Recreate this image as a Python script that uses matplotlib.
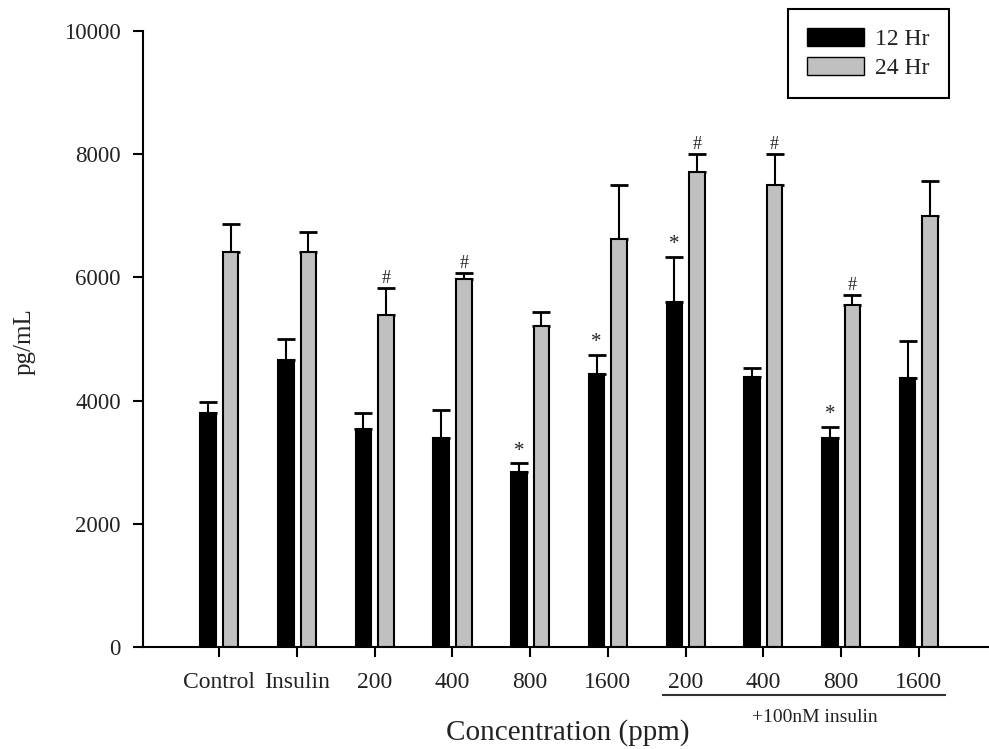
import numpy as np
import matplotlib.pyplot as plt
from matplotlib.patches import Patch

plt.rcParams['font.family'] = ['Liberation Serif', 'DejaVu Serif']
plt.rcParams['text.color'] = '#222222'

# data
groups = ['Control', 'Insulin', '200', '400', '800', '1600', '200', '400', '800', '1600']
mean_12 = [3800, 4660, 3540, 3400, 2840, 4430, 5600, 4390, 3390, 4360]
err_12 = [180, 340, 260, 440, 140, 310, 730, 140, 180, 610]
mean_24 = [6420, 6420, 5390, 5975, 5210, 6620, 7705, 7500, 5560, 7000]
err_24 = [440, 320, 430, 90, 230, 880, 295, 500, 150, 560]
star_12 = [False, False, False, False, True, True, True, False, True, False]
hash_24 = [False, False, True, True, False, False, True, True, True, False]

fig = plt.figure(figsize=(9.89, 7.49), dpi=100)
ax = fig.add_axes([143/989, 102/749, 845/989, 616/749])

x = np.arange(len(groups))
w = 0.2
off = 0.145

ax.bar(x - off, mean_12, w, color='black', edgecolor='black', linewidth=1.5, zorder=2)
ax.bar(x + off, mean_24, w, color='#c0c0c0', edgecolor='black', linewidth=1.5, zorder=2)
ax.errorbar(x - off, mean_12, yerr=[np.zeros(len(x)), err_12], fmt='none',
            ecolor='black', elinewidth=1.5, capsize=6.5, capthick=2, zorder=1)
ax.errorbar(x + off, mean_24, yerr=[np.zeros(len(x)), err_24], fmt='none',
            ecolor='black', elinewidth=1.5, capsize=6.5, capthick=2, zorder=1)

# significance marks
for i in range(len(x)):
    if star_12[i]:
        ax.annotate('*', (x[i] - off, mean_12[i] + err_12[i]), xytext=(0, 2),
                    textcoords='offset points', ha='center', va='bottom', fontsize=15)
    if hash_24[i]:
        ax.annotate('#', (x[i] + off, mean_24[i] + err_24[i]), xytext=(0, 1),
                    textcoords='offset points', ha='center', va='bottom', fontsize=13)

ax.set_xlim(-0.982, 9.89)
ax.set_ylim(0, 10000)
ax.set_yticks([0, 2000, 4000, 6000, 8000, 10000])
ax.set_xticks(x)
ax.set_xticklabels(groups, fontsize=17, color='#222222')
for lbl in ax.get_yticklabels():
    lbl.set_fontsize(16.5)
    lbl.set_color('#222222')

ax.spines['top'].set_visible(False)
ax.spines['right'].set_visible(False)
ax.spines['left'].set_linewidth(1.5)
ax.spines['bottom'].set_linewidth(1.5)
ax.tick_params(axis='y', direction='out', length=7, width=1.5, pad=9)
ax.tick_params(axis='x', direction='out', length=7, width=1.5, pad=11)

fig.text(25/989, 1 - 342/749, 'pg/mL', rotation=90, ha='center', va='center', fontsize=18)
fig.text(568/989, 1 - 733/749, 'Concentration (ppm)', ha='center', va='center', fontsize=21)
fig.text(815/989, 1 - 717/749, '+100nM insulin', ha='center', va='center', fontsize=14)
fig.add_artist(plt.Line2D([663/989, 945/989], [1 - 695/749, 1 - 695/749],
                          color='#333333', linewidth=1.5))

handles = [Patch(facecolor='black', edgecolor='black', label='12 Hr'),
           Patch(facecolor='#c0c0c0', edgecolor='black', label='24 Hr')]
leg = fig.legend(handles=handles, loc='upper left', bbox_to_anchor=(788/989, 1 - 9/749),
                 fontsize=17, frameon=True, fancybox=False, edgecolor='black',
                 framealpha=1, handlelength=2.4, handleheight=0.8, borderpad=0.8,
                 labelspacing=0.3, handletextpad=0.5, borderaxespad=0)
leg.get_frame().set_linewidth(1.5)

fig.savefig('out.png', dpi=100)
